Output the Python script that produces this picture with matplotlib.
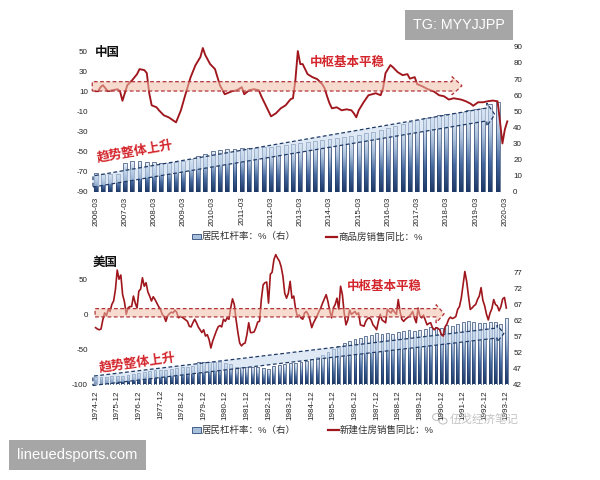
import numpy as np
import matplotlib
matplotlib.use('Agg')
import matplotlib.pyplot as plt
from matplotlib.patches import Rectangle, Polygon, Ellipse
from matplotlib.colors import LinearSegmentedColormap, to_rgba
from matplotlib.lines import Line2D

plt.rcParams['font.family'] = ['Liberation Sans', 'Noto Sans CJK SC']
plt.rcParams['axes.unicode_minus'] = False

# ---------------- China (monthly x axis, 0 = 2006-03) ----------------
cn_tick_labels = ['2006-03', '2007-03', '2008-03', '2009-03', '2010-03', '2011-03', '2012-03',
                  '2013-03', '2014-03', '2015-03', '2016-03', '2017-03', '2018-03', '2019-03', '2020-03']
# household leverage, quarterly from 2006-03 (%; right axis)
cn_leverage = [11.4, 11.0, 11.0, 11.3, 18.0, 18.9, 19.1, 18.6,
               18.6, 18.0, 18.0, 18.6, 19.0, 20.1, 22.2, 23.4,
               25.5, 26.2, 26.8, 26.8, 27.4, 27.4, 27.2, 28.0,
               28.0, 28.6, 29.0, 29.6, 30.0, 30.6, 31.5, 32.0,
               32.5, 33.2, 33.8, 34.5, 35.2, 36.2, 37.3, 38.3,
               39.4, 40.9, 42.0, 43.2, 44.5, 45.6, 46.6, 47.5,
               48.3, 49.0, 49.7, 50.5, 51.2, 51.8, 54.5, 55.5]
# commercial housing sales YoY (%; left axis), months after 2006-03
cn_sales_month = [0, 1, 2, 3, 5, 7, 9, 10, 11, 13, 15, 17, 18, 20, 21, 22, 23, 25, 26, 28,
                  30, 33, 35, 37, 39, 41, 43, 44, 45, 47, 49, 51, 53, 54, 56, 58, 60, 61, 63, 65,
                  67, 68, 70, 72, 74, 76, 78, 80, 81, 82, 83, 84, 85, 87, 89, 91, 93, 94, 95, 96,
                  97, 99, 101, 103, 105, 106, 107, 108, 110, 112, 115, 117, 118, 119, 121, 122, 124, 126, 128, 129,
                  131, 132, 134, 136, 139, 141, 143, 145, 147, 150, 152, 154, 155, 157, 159, 161, 163, 165, 166, 167,
                  168, 169]
cn_sales_yoy = [10, 10, 14, 16, 10, 11, 12, 10, 0.5, 16, 21, 27, 32, 31, 28, 8, -4, -6, -9, -14,
                -16, -21, -9, 8, 24, 36, 44, 53, 46, 37, 32, 16, 7, 8, 10, 11, 14, 7, 11, 12,
                11, 5, -5, -15, -12, -7, -4, 2, 3, 21, 50, 37, 37, 27, 24, 22, 17, 13, 5, -2,
                -7, -6, -9, -8, -9, -12, -16, -9, -1, 6, 8, 6, 13, 28, 36, 34, 29, 26, 27, 22.5,
                24, 17, 15, 12.5, 9.5, 6, 5, 1.7, 3, 1.7, 0, -2.5, -4.5, -1, -1, 0, 0.7, 0, -20, -42,
                -28, -20]

# ---------------- USA (monthly x axis, 0 = 1974-12) ----------------
us_tick_labels = ['%d-12' % y for y in range(1974, 1994)]
# household leverage, quarterly from 1974-12 (%; right axis)
us_leverage = [44.2, 44.3, 44.4, 44.5, 44.6, 44.8, 45.0, 45.3, 45.6, 45.9,
               46.2, 46.4, 46.5, 46.6, 46.8, 47.0, 47.3, 47.5, 47.8, 49.0,
               49.1, 49.0, 48.9, 49.0, 48.8, 48.4, 47.6, 47.4, 47.3, 47.4,
               47.3, 47.2, 46.7, 47.9, 48.2, 48.3, 48.6, 48.8, 49.0, 49.3,
               49.8, 50.5, 51.3, 52.2, 53.2, 54.0, 55.0, 55.5, 56.3, 56.5,
               57.2, 57.5, 58.0, 57.6, 58.2, 57.7, 58.5, 58.8, 59.1, 58.6,
               59.0, 59.3, 59.8, 59.8, 59.5, 60.5, 60.3, 61.0, 61.5, 61.7,
               61.5, 61.3, 61.3, 61.4, 61.5, 61.0, 62.8]
# new home sales YoY (%; left axis), monthly from 1974-12
us_sales_yoy = [-19, -21, -22, -21, -8, 2, -2, 7, 4, 14,
                19, 35, 63, 50, 56, 28, 18, 0, 9, 11,
                11, 26, 16, 9, 33, 36, 52, 40, 45, 32,
                26, 19, 25, 21, 16, 11, 7, 0, -3, -10,
                -2, 1, 3, 2, 6, 3, -5, -3, -4, -6,
                -8, -10, -17, -18, -12, -7, -12, -18, -22, -26,
                -22, -31, -29, -36, -48, -38, -31, -24, -18, -16,
                -18, -7, -10, -5, -7, 9, 22, 14, -8, -26,
                -41, -45, -42, -41, -29, -12, -26, -26, -25, -19,
                -11, -10, 21, 42, 45, 46, 16, 57, 60, 78,
                85, 80, 76, 68, 54, 30, 23, 30, 47, 23,
                26, 8, -3, -1, -5, -7, 2, 4, 0, -8,
                -19, -12, -7, -2, 4, 9, 16, 22, 28, 18,
                5, -5, 9, 14, 23, 7, 40, 28, 2, -15,
                -8, 6, 0, 2, 4, 0, 2, -15, -16, -17,
                -10, -6, -5, -8, -15, -18, -22, -10, 0, -8,
                -10, -12, 7, 4, 2, 7, 3, 0, 21, 4,
                -7, -10, -7, -5, -3, 0, 4, -5, -12, 9,
                -2, -5, -1, -8, -15, -13, -12, -19, -22, -19,
                -20, -22, -29, -31, -18, -14, -7, -4, -6, -5,
                -3, 7, 11, 23, 42, 61, 47, 26, 7, 9,
                12, 14, 21, 26, 38, 20, 12, 0, -8, 2,
                8, 21, 14, 12, 5, 11, 22, 24, 9]

RED = '#a0161d'
TXT_RED = '#d3262c'
NAVY = '#1f3a66'
bar_cmap = LinearSegmentedColormap.from_list('bar', ['#1d3866', '#46699f', '#a9bfdc', '#eef3fa'])

fig = plt.figure(figsize=(6, 4.8), dpi=100)
fig.patch.set_facecolor('white')


def fx(x):
    return x / 600.0


def fy(y):
    return 1 - y / 480.0


def gradient_bars(ax, xs, hs, base, width):
    grad = np.linspace(0, 1, 64).reshape(-1, 1)
    for x, h in zip(xs, hs):
        rect = Rectangle((x - width / 2, base), width, h - base, facecolor='none',
                         edgecolor=NAVY, lw=0.45, zorder=3)
        ax.add_patch(rect)
        im = ax.imshow(grad, extent=[x - width / 2, x + width / 2, base, h], origin='lower',
                       aspect='auto', cmap=bar_cmap, zorder=2, interpolation='bilinear')
        im.set_clip_path(rect)


def block_arrow(ax, x0, xs, xe, lo0, hi0, lo1, hi1, hlo, hhi, face, edge, z):
    tip = (hlo + hhi) / 2
    verts = [(x0, lo0), (xs, lo1), (xs, hlo), (xe, tip), (xs, hhi), (xs, hi1), (x0, hi0)]
    p = Polygon(verts, closed=True, facecolor=face, edgecolor=edge, lw=0.9,
                linestyle=(0, (3, 2)), zorder=z, clip_on=False)
    ax.add_patch(p)


def style_axes(ax, ax2):
    for a in (ax, ax2):
        for s in a.spines.values():
            s.set_visible(False)
        a.tick_params(axis='both', length=0, labelsize=5.8, colors='#222222')
    ax.set_zorder(ax2.get_zorder() + 1)
    ax.patch.set_visible(False)


# ======================= China panel =======================
ax = fig.add_axes([fx(92), fy(191.7), fx(417), 145.7 / 480])
ax2 = ax.twinx()
style_axes(ax, ax2)

cn_bar_x = [3 * i for i in range(len(cn_leverage))]
gradient_bars(ax2, cn_bar_x, cn_leverage, 0, 1.6)
ax.plot(cn_sales_month, cn_sales_yoy, color=RED, lw=1.35, zorder=3)

ax.set_xlim(-1.5, 169.7)
ax.set_ylim(-90, 55)
ax2.set_ylim(0, 90.5)
ax2.set_xlim(-1.5, 169.7)
ax.set_yticks(range(-90, 51, 20))
ax2.set_yticks(range(0, 91, 10))
ax.set_xticks([12 * i for i in range(len(cn_tick_labels))])
ax.set_xticklabels(cn_tick_labels, rotation=90)
ax.tick_params(axis='x', pad=3.5)
ax.tick_params(axis='y', pad=3)
ax2.tick_params(axis='y', pad=3)

block_arrow(ax, -1.4, 146.3, 150.4, 10.2, 19.5, 10.2, 19.5, 6.4, 24.5,
            to_rgba('#f2bfa8', 0.55), '#b2353a', 5)
block_arrow(ax2, -1.1, 160.6, 163.9, 2.9, 9.8, 44.0, 52.0, 40.8, 55.0,
            to_rgba('#c8dbef', 0.6), NAVY, 5)

ax.text(103.4, 38, '中枢基本平稳', color=TXT_RED, fontsize=9, fontweight='bold',
        ha='center', va='center', zorder=6)
ax.text(16.1, -50.5, '趋势整体上升', color=TXT_RED, fontsize=9.3, fontweight='bold',
        ha='center', va='center', rotation=10, zorder=6)
fig.text(fx(95), fy(53.3), '中国', fontsize=9, fontweight='bold', color='#111111',
         ha='left', va='center')

# ======================= USA panel =======================
bx = fig.add_axes([fx(92), fy(384.5), fx(417), 133.5 / 480])
bx2 = bx.twinx()
style_axes(bx, bx2)

us_bar_x = [3 * i for i in range(len(us_leverage))]
gradient_bars(bx2, us_bar_x, us_leverage, 42, 1.6)
bx.plot(np.arange(len(us_sales_yoy)), us_sales_yoy, color=RED, lw=1.2, zorder=3)

bx.set_xlim(-2, 229.5)
bx2.set_xlim(-2, 229.5)
bx.set_ylim(-100, 90.2)
bx2.set_ylim(42, 83.6)
bx.set_yticks([-100, -50, 0, 50])
bx2.set_yticks(range(42, 78, 5))
bx.set_xticks([12 * i for i in range(len(us_tick_labels))])
bx.set_xticklabels(us_tick_labels, rotation=90)
bx.tick_params(axis='x', pad=4)
bx.tick_params(axis='y', pad=3)
bx2.tick_params(axis='y', pad=3)

block_arrow(bx, -0.3, 189, 193.5, -3.7, 8.1, -3.7, 8.1, -12.3, 13.8,
            to_rgba('#f2bfa8', 0.55), '#b2353a', 5)
block_arrow(bx2, -1.5, 222.9, 226.7, 41.7, 44.6, 56.5, 59.6, 55.3, 60.5,
            to_rgba('#c8dbef', 0.6), NAVY, 5)

bx.text(160.3, 38.5, '中枢基本平稳', color=TXT_RED, fontsize=9, fontweight='bold',
        ha='center', va='center', zorder=6)
bx.text(23, -69.8, '趋势整体上升', color=TXT_RED, fontsize=9.3, fontweight='bold',
        ha='center', va='center', rotation=8, zorder=6)
fig.text(fx(92.5), fy(263.3), '美国', fontsize=9, fontweight='bold', color='#111111',
         ha='left', va='center')


# ======================= legends =======================
def legend_row(y, t1, t2, x2line, x2text):
    fig.add_artist(Rectangle((fx(191.5), fy(y + 2.6)), fx(9.5), 5.2 / 480,
                             transform=fig.transFigure, facecolor='#a9c0dd',
                             edgecolor='#2b4a7a', lw=0.6))
    fig.text(fx(202), fy(y), t1, fontsize=6.8, color='#333333', ha='left', va='center')
    fig.add_artist(Line2D([fx(x2line), fx(x2line + 11)], [fy(y), fy(y)],
                          transform=fig.transFigure, color=RED, lw=1.6))
    fig.text(fx(x2text), fy(y), t2, fontsize=6.8, color='#333333', ha='left', va='center')


legend_row(236.7, '居民杠杆率：%（右）', '商品房销售同比：%', 326, 338)
legend_row(430, '居民杠杆率：%（右）', '新建住房销售同比：%', 328, 340)

# ======================= watermarks =======================
fig.text(fx(450), fy(420), '伍戈经济笔记', fontsize=8.3, color='#c4c4c4', ha='left', va='center')
fig.add_artist(Ellipse((fx(437), fy(417)), fx(9), 7 / 480, transform=fig.transFigure,
                       facecolor='none', edgecolor='#c4c4c4', lw=0.8))
fig.add_artist(Ellipse((fx(443), fy(421)), fx(8), 6 / 480, transform=fig.transFigure,
                       facecolor='white', edgecolor='#c4c4c4', lw=0.8))

fig.add_artist(Rectangle((fx(405), fy(40)), fx(108), 30 / 480, transform=fig.transFigure,
                         facecolor='#a6a6a6', edgecolor='none'))
fig.text(fx(459), fy(25), 'TG: MYYJJPP', fontsize=10.3, color='white', ha='center', va='center')
fig.add_artist(Rectangle((fx(8.7), fy(470)), fx(137.6), 30 / 480, transform=fig.transFigure,
                         facecolor='#a6a6a6', edgecolor='none'))
fig.text(fx(76.7), fy(455), 'lineuedsports.com', fontsize=10.6, color='white', ha='center', va='center')

fig.savefig('out.png', dpi=100)
